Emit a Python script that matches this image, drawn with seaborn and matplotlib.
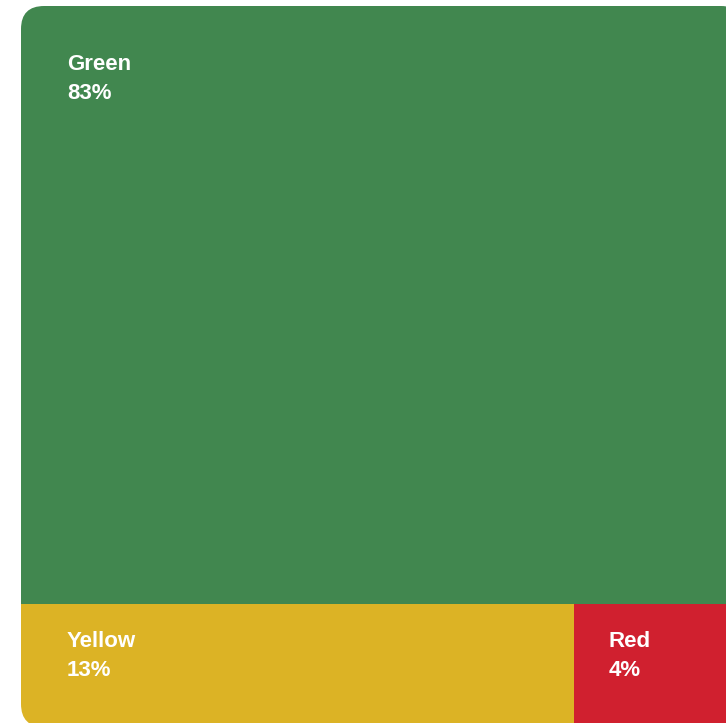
import matplotlib
matplotlib.use('Agg')
import matplotlib.pyplot as plt
import matplotlib.transforms as mtransforms
from matplotlib.patches import Rectangle, FancyBboxPatch
import seaborn as sns

# Data
categories = ['Green', 'Yellow', 'Red']
shares = [83, 13, 4]
colors = ['#41874f', '#dcb325', '#d0202f']


def layout(values):
    # First item gets the full-width top band, the rest share the bottom band.
    total = float(sum(values))
    top_h = values[0] / total
    rects = [(0.0, 0.0, 1.0, top_h)]
    rest = sum(values[1:])
    x = 0.0
    for v in values[1:]:
        w = v / rest
        rects.append((x, top_h, w, 1.0 - top_h))
        x += w
    return rects


sns.set_theme(style='white')
plt.rcParams['font.family'] = ['Liberation Sans', 'DejaVu Sans']

fig = plt.figure(figsize=(7.26, 7.23), dpi=100)
ax = fig.add_axes([21 / 726, (723 - 727) / 723, 723 / 726, 721 / 723])
ax.set_xlim(0, 1)
ax.set_ylim(1, 0)
ax.set_axis_off()

clip = FancyBboxPatch((0, 0), 1, 1, boxstyle='round,pad=0,rounding_size=0.032',
                      transform=ax.transData, facecolor='none', edgecolor='none')
ax.add_patch(clip)

for name, share, color, (x, y, w, h) in zip(categories, shares, colors, layout(shares)):
    r = Rectangle((x, y), w, h, facecolor=color, edgecolor='none')
    ax.add_patch(r)
    r.set_clip_path(clip)
    # extra padding for cells on the outer left / top edge
    pad_x = 35 + (11 if x == 0 else 0)
    pad_y = 27 + (21 if y == 0 else 0)
    tr = mtransforms.offset_copy(ax.transData, fig=fig, x=pad_x * 72 / 100,
                                 y=-pad_y * 72 / 100, units='points')
    ax.text(x, y, f'{name}\n{share}%', transform=tr, ha='left', va='top',
            color='white', fontsize=16, fontweight='bold', linespacing=1.5)

fig.savefig('out.png', dpi=100)
